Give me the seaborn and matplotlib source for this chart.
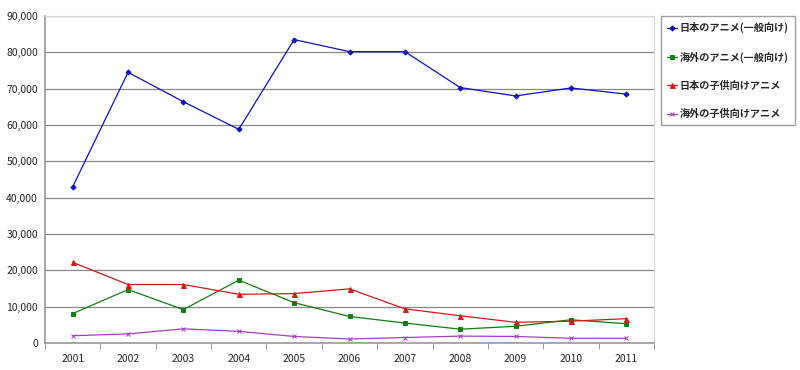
import numpy as np
import pandas as pd
import matplotlib
matplotlib.use("Agg")
import matplotlib.pyplot as plt
from matplotlib.ticker import FuncFormatter, FixedLocator
import seaborn as sns

years = ["2001", "2002", "2003", "2004", "2005", "2006", "2007", "2008", "2009", "2010", "2011"]
jp_general = [43000, 74500, 66400, 58800, 83500, 80200, 80200, 70300, 68000, 70200, 68500]
intl_general = [8100, 14700, 9200, 17300, 11100, 7300, 5500, 3800, 4600, 6400, 5300]
jp_kids = [22200, 16100, 16100, 13400, 13600, 14900, 9400, 7500, 5700, 6000, 6700]
intl_kids = [2000, 2500, 3900, 3200, 1800, 1100, 1500, 1900, 1800, 1300, 1300]
labels = ["日本のアニメ(一般向け)", "海外のアニメ(一般向け)", "日本の子供向けアニメ", "海外の子供向けアニメ"]

sns.set_style("white")
plt.rcParams['font.family'] = ['Noto Sans CJK JP', 'DejaVu Sans']

fig = plt.figure(figsize=(8, 3.7), dpi=100)
ax = fig.add_axes([45/800, 27/370, 609/800, 327/370])

series = [jp_general, intl_general, jp_kids, intl_kids]
colors = ["#1010c0", "#108010", "#d81818", "#a040c0"]
markers = ["D", "s", "^", "x"]
msizes = [2.6, 2.6, 3.6, 3.5]
xpos = np.arange(len(years))
for vals, lab, c, m, ms in zip(series, labels, colors, markers, msizes):
    sns.lineplot(x=xpos, y=vals, ax=ax, color=c, marker=m, markersize=ms,
                 markeredgecolor=c, markeredgewidth=0.7, linewidth=0.9, label=lab)

ax.set_xlim(-0.5, len(years) - 0.5)
ax.set_ylim(0, 90000)
ax.set_yticks(np.arange(0, 90001, 10000))
ax.yaxis.set_major_formatter(FuncFormatter(lambda v, p: f"{int(v):,}"))
ax.set_xticks(xpos)
ax.set_xticklabels(years)
ax.xaxis.set_minor_locator(FixedLocator(np.arange(-0.5, len(years), 1.0)))
ax.tick_params(axis="x", which="major", length=0, pad=8, labelsize=7.5)
ax.tick_params(axis="x", which="minor", length=4, direction="out", color="#888888", bottom=True)
ax.tick_params(axis="y", length=0, pad=5, labelsize=7.5)
ax.grid(axis="y", color="#888888", linewidth=0.9)
ax.set_axisbelow(True)
for s in ["top", "right"]:
    ax.spines[s].set_color("#d8d8d8")
for s in ["left", "bottom"]:
    ax.spines[s].set_color("#999999")
    ax.spines[s].set_linewidth(1.2)

ax.get_legend().remove()
handles, labs = ax.get_legend_handles_labels()
leg = fig.legend(handles, labs, loc="upper left", bbox_to_anchor=(661/800, 1 - 16/370),
                 frameon=True, fancybox=False, edgecolor="#888888", fontsize=7.3,
                 labelspacing=1.8, handlelength=1.0, handletextpad=0.25,
                 borderpad=0.6, borderaxespad=0)
leg.get_frame().set_linewidth(1.0)
for t in leg.get_texts():
    t.set_fontweight("bold")

fig.savefig("out.png", dpi=100)
